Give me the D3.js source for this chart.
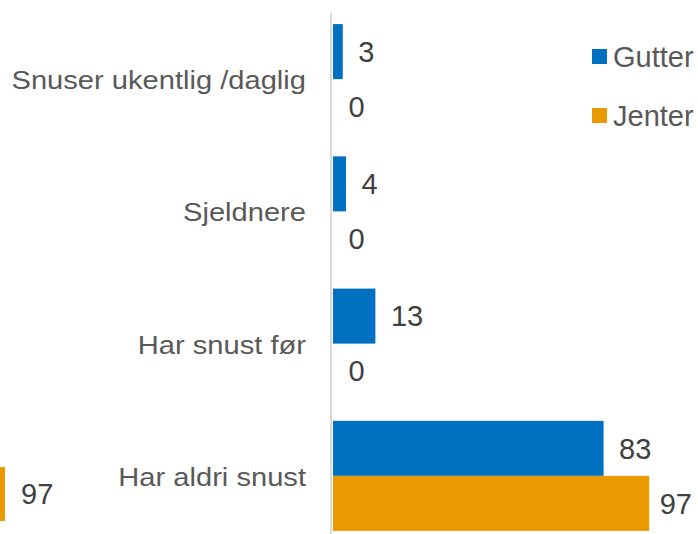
<!DOCTYPE html>
<html>
<head>
<meta charset="utf-8">
<script src="https://cdn.jsdelivr.net/npm/d3@7"></script>
<style>
  html, body { margin: 0; padding: 0; background: #fff; }
  svg { display: block; }
  text { font-family: "Liberation Sans", Arial, sans-serif; }
</style>
</head>
<body>
<svg id="chart" width="698" height="534"></svg>
<script>
// Survey shares (%) by category and gender
const categories = ["Snuser ukentlig /daglig", "Sjeldnere", "Har snust før", "Har aldri snust"];
const series = ["Gutter", "Jenter"];
const gutter = [3, 4, 13, 83];
const jenter = [0, 0, 0, 97];
// Neighbouring panel's last bar, partly visible at the left edge
const leftPanelValue = [97];

const colors = { Gutter: "#0070C0", Jenter: "#E89A00" };
const W = 698, H = 534;
const svg = d3.select("#chart");

const x = d3.scaleLinear().domain([0, 100]).range([333, 659]);
const y0 = d3.scaleBand().domain(categories).range([13, 542]).paddingInner(0.168).paddingOuter(0.084);
const y1 = d3.scaleBand().domain(series).range([0, y0.bandwidth()]);

const rows = categories.map((c, i) => ({ cat: c, values: [
  { s: "Gutter", v: gutter[i] }, { s: "Jenter", v: jenter[i] }
]}));

// Category axis line
svg.append("line")
  .attr("x1", 331).attr("x2", 331)
  .attr("y1", 13).attr("y2", H)
  .attr("stroke", "#d9d9d9").attr("stroke-width", 2);

const g = svg.selectAll("g.cat").data(rows).join("g")
  .attr("class", "cat")
  .attr("transform", d => `translate(0,${y0(d.cat)})`);

g.selectAll("rect").data(d => d.values).join("rect")
  .attr("x", x(0))
  .attr("y", d => y1(d.s))
  .attr("width", d => x(d.v) - x(0))
  .attr("height", y1.bandwidth())
  .attr("fill", d => colors[d.s]);

// Value labels, kept inside the right edge
g.selectAll("text.val").data(d => d.values).join("text")
  .attr("class", "val")
  .attr("y", d => y1(d.s) + y1.bandwidth() / 2)
  .attr("dy", "0.35em")
  .attr("font-size", 29)
  .attr("fill", "#404040")
  .text(d => d.v)
  .each(function(d) {
    const w = this.getComputedTextLength();
    this.setAttribute("x", Math.min(x(d.v) + 15.5, 692 - w));
  });

// Category labels (slightly widened face)
svg.selectAll("text.cat").data(categories).join("text")
  .attr("class", "cat")
  .attr("transform", d => `translate(306,${y0(d) + y0.bandwidth() / 2 + 1}) scale(1.12,1)`)
  .attr("dy", "0.35em")
  .attr("text-anchor", "end")
  .attr("font-size", 26)
  .attr("fill", "#595959")
  .text(d => d);

// Legend
const leg = svg.selectAll("g.leg").data(series).join("g")
  .attr("class", "leg")
  .attr("transform", (d, i) => `translate(592,${49 + i * 59})`);
leg.append("rect").attr("width", 15).attr("height", 15).attr("fill", d => colors[d]);
leg.append("text").attr("x", 21).attr("y", 7.5).attr("dy", "0.35em")
  .attr("font-size", 29).attr("fill", "#595959").text(d => d);

// Partial bar from the neighbouring panel
const span = x(97) - x(0);
const xl = d3.scaleLinear().domain([0, 97]).range([5 - span, 5]);
svg.selectAll("rect.left").data(leftPanelValue).join("rect")
  .attr("class", "left")
  .attr("x", xl(0)).attr("y", 467)
  .attr("width", d => xl(d) - xl(0)).attr("height", 54)
  .attr("fill", colors.Jenter);
svg.selectAll("text.left").data(leftPanelValue).join("text")
  .attr("class", "left")
  .attr("x", d => xl(d) + 16).attr("y", 494).attr("dy", "0.35em")
  .attr("font-size", 29).attr("fill", "#404040")
  .text(d => d);
</script>
</body>
</html>
